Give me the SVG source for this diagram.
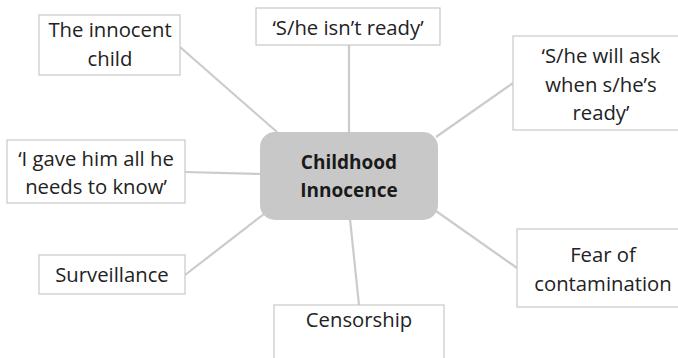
<svg xmlns="http://www.w3.org/2000/svg" width="678" height="358" viewBox="0 0 678 358">
<style>
.box{fill:#fff;stroke:#c8c8c8;stroke-width:1.2}
.t{font-family:"Open Sans","Liberation Sans",sans-serif;font-size:20.3px;fill:#222;text-anchor:middle}
.b{font-weight:bold;fill:#1a1a1a;font-size:19px}
.c{stroke:#cbcbcb;stroke-width:2.2;fill:none}
</style>
<rect width="678" height="358" fill="#fff"/>
<g id="connectors">
<line class="c" x1="180" y1="47" x2="277" y2="132"/>
<line class="c" x1="349" y1="45" x2="349" y2="132"/>
<line class="c" x1="513" y1="83" x2="436" y2="137"/>
<line class="c" x1="185" y1="172" x2="261" y2="174"/>
<line class="c" x1="185" y1="275" x2="264" y2="214"/>
<line class="c" x1="350" y1="219" x2="359" y2="305"/>
<line class="c" x1="436" y1="211" x2="517" y2="268"/>
</g>
<g id="center">
<rect x="260" y="132" width="178" height="88" rx="15" fill="#c8c8c8"/>
<text class="t b" x="349" y="169">Childhood</text>
<text class="t b" x="349" y="197">Innocence</text>
</g>
<g id="innocent-child">
<rect class="box" x="39" y="15" width="141" height="60"/>
<text class="t" x="110" y="37">The innocent</text>
<text class="t" x="110" y="66">child</text>
</g>
<g id="not-ready">
<rect class="box" x="256" y="8" width="184" height="37"/>
<text class="t" x="348" y="35">‘S/he isn’t ready’</text>
</g>
<g id="will-ask">
<rect class="box" x="513" y="36" width="176" height="94"/>
<text class="t" x="601" y="63">‘S/he will ask</text>
<text class="t" x="601" y="92">when s/he’s</text>
<text class="t" x="601" y="120">ready’</text>
</g>
<g id="gave-him">
<rect class="box" x="7" y="140" width="178" height="63"/>
<text class="t" x="96" y="166">‘I gave him all he</text>
<text class="t" x="96" y="194">needs to know’</text>
</g>
<g id="surveillance">
<rect class="box" x="39" y="255" width="146" height="39"/>
<text class="t" x="112" y="282">Surveillance</text>
</g>
<g id="censorship">
<rect class="box" x="274" y="305" width="170" height="70"/>
<text class="t" x="359" y="327">Censorship</text>
</g>
<g id="fear">
<rect class="box" x="517" y="229" width="172" height="78"/>
<text class="t" x="603" y="262">Fear of</text>
<text class="t" x="603" y="291">contamination</text>
</g>
</svg>
